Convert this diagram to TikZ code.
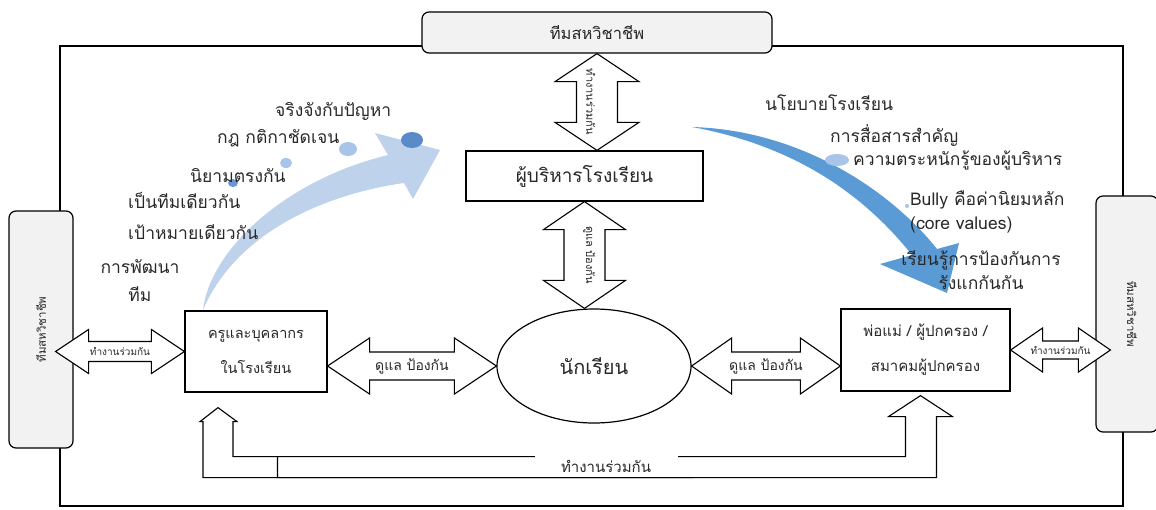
\documentclass[tikz,border=0pt]{standalone}
\usepackage{fontspec}
\setmainfont[Script=Thai]{Loma}
\usetikzlibrary{calc,positioning,shapes.geometric}

\definecolor{boxgray}{RGB}{242,242,242}
\definecolor{paleblue}{RGB}{190,210,236}
\definecolor{midblue}{RGB}{91,155,213}
\definecolor{dotpale}{RGB}{168,196,232}
\definecolor{dotmid}{RGB}{106,150,210}
\definecolor{dotdeep}{RGB}{90,138,200}
\definecolor{txtgray}{RGB}{40,40,40}

% horizontal fat double arrow: from, to, head half, shaft half, head length
\newcommand{\harrow}[5]{%
  \draw[fatarrow] let \p1=(#1), \p2=(#2) in
    (\x1,\y1) -- (\x1+#5,\y1+#3) -- (\x1+#5,\y1+#4) -- (\x2-#5,\y1+#4)
    -- (\x2-#5,\y1+#3) -- (\x2,\y1) -- (\x2-#5,\y1-#3) -- (\x2-#5,\y1-#4)
    -- (\x1+#5,\y1-#4) -- (\x1+#5,\y1-#3) -- cycle;}
% vertical fat double arrow: top, bottom, head half, shaft half, head length
\newcommand{\varrow}[5]{%
  \draw[fatarrow] let \p1=(#1), \p2=(#2) in
    (\x1,\y1) -- (\x1+#3,\y1-#5) -- (\x1+#4,\y1-#5) -- (\x1+#4,\y2+#5)
    -- (\x1+#3,\y2+#5) -- (\x1,\y2) -- (\x1-#3,\y2+#5) -- (\x1-#4,\y2+#5)
    -- (\x1-#4,\y1-#5) -- (\x1-#3,\y1-#5) -- cycle;}

\begin{document}
\begin{tikzpicture}[x=1pt,y=-1pt,
% common options for blocks:
block/.style = {draw, line width=1.2pt, fill=white, align=center, inner sep=0,
            text=txtgray},
% common options for the rounded team boxes:
team/.style = {draw, line width=1.2pt, rounded corners=7pt, fill=boxgray,
            inner sep=0, font=\fontsize{11.5}{13}\selectfont, text=txtgray},
% common options for the fat arrows:
fatarrow/.style = {line width=1.1pt, fill=white, line join=miter},
% common options for the listed points:
point/.style = {anchor=west, inner sep=0, text=txtgray,
            font=\fontsize{17.5}{20}\selectfont},
tag/.style = {inner sep=0, text=txtgray, font=\fontsize{10}{11}\selectfont}]
\useasboundingbox (0,0) rectangle (1156,509);
\draw[line width=1.8pt] (60,46) rectangle (1123,506);
% curved arrows
\fill[paleblue] (203,310) .. controls (210,250) and (285,180) .. (388,155)
  -- (375,133) -- (440,150) -- (413,199) -- (404,183)
  .. controls (320,195) and (235,235) .. (203,310) -- cycle;
\fill[midblue] (692,127) .. controls (800,130) and (890,190) .. (937,249)
  -- (959,243) -- (947,293) -- (880,264) -- (912,255)
  .. controls (860,190) and (790,145) .. (692,127) -- cycle;
\fill[dotdeep] (191,207) circle (1.8pt);
\fill[dotmid] (233,183) ellipse (5pt and 4pt);
\fill[dotpale] (286,163) ellipse (6pt and 5pt);
\fill[dotpale] (348,149) ellipse (9pt and 7pt);
\fill[dotdeep] (412,140) ellipse (11pt and 8pt);
\fill[dotpale] (837,160) ellipse (12pt and 6pt);
\fill[dotpale] (907,206) circle (2pt);
% boxes
\node[team, minimum width=350, minimum height=41, font=\fontsize{16.5}{18}\selectfont] (T0) at (597,32.5) {ทีมสหวิชาชีพ};
\node[team, minimum width=237, minimum height=64, rotate=90] (T1) at (41,329.5) {ทีมสหวิชาชีพ};
\node[team, minimum width=236, minimum height=62, rotate=-90, text depth=10pt] (T2) at (1127,314) {ทีมสหวิชาชีพ};
\node[block, minimum width=237, minimum height=50, font=\fontsize{19}{22}\selectfont] (M0) at (584.5,176) {ผู้บริหารโรงเรียน};
\node[block, minimum width=142, minimum height=81, font=\fontsize{14.5}{35}\selectfont] (M1) at (256,351.5) {ครูและบุคลากร\\ในโรงเรียน};
\node[block, ellipse, minimum width=194, minimum height=114, font=\fontsize{20}{22}\selectfont] (S0) at (594,366) {นักเรียน};
\node[block, minimum width=169, minimum height=82, font=\fontsize{15}{35}\selectfont] (P0) at (925.5,350) {พ่อแม่ / ผู้ปกครอง /\\สมาคมผู้ปกครอง};
% points
\node[point] (L1) at (275,111) {จริงจังกับปัญหา};
\node[point] (L2) at (217,138) {กฎ กติกาชัดเจน};
\node[point] (L3) at (190,176) {นิยามตรงกัน};
\node[point] (L4) at (128,200) {เป็นทีมเดียวกัน};
\node[point] (L5) at (128,232) {เป้าหมายเดียวกัน};
\node[point, anchor=center, align=center, font=\fontsize{17.5}{28}\selectfont] (L6) at (140,281) {การพัฒนา\\ทีม};
\node[point] (R1) at (765,103) {นโยบายโรงเรียน};
\node[point] (R2) at (830,135) {การสื่อสารสำคัญ};
\node[point] (R3) at (853,160) {ความตระหนักรู้ของผู้บริหาร};
\node[point, align=left, font=\fontsize{17.5}{24}\selectfont] (R4) at (910,212) {Bully คือค่านิยมหลัก\\(core values)};
\node[point, anchor=center, align=center, font=\fontsize{17.5}{24}\selectfont] (R5) at (981,270) {เรียนรู้การป้องกันการ\\รังแกกันกัน};
% fat arrows
\coordinate (aL) at ($(T1.south |- M1.west)+(-18,0)$);
\coordinate (aR) at ($(T2.south |- P0.east)+(15,0)$);
\coordinate (aM) at (M1.east |- S0.center);
\coordinate (aP) at (P0.west |- S0.center);
\harrow{aL}{M1.west}{22pt}{10pt}{33pt}
\harrow{aM}{S0.west}{28pt}{14pt}{42pt}
\harrow{S0.east}{aP}{28pt}{14pt}{40pt}
\harrow{P0.east}{aR}{22pt}{9pt}{32pt}
\varrow{T0.south}{M0.north}{42pt}{20.5pt}{28pt}
\varrow{M0.south}{S0.north}{41pt}{20.5pt}{28pt}
\node[tag] (W1) at ($(aL)!0.5!(M1.west)$) {ทำงานร่วมกัน};
\node[tag, font=\fontsize{14}{15}\selectfont] (W2) at ($(aM)!0.5!(S0.west)$) {ดูแล ป้องกัน};
\node[tag, font=\fontsize{14}{15}\selectfont] (W3) at ($(S0.east)!0.5!(aP)$) {ดูแล ป้องกัน};
\node[tag] (W4) at ($(P0.east)!0.5!(aR)$) {ทำงานร่วมกัน};
\node[tag, rotate=-90, font=\fontsize{11}{12}\selectfont] (W5) at ($(T0.south)!0.5!(M0.north)$) {ทำงานร่วมกัน};
\node[tag, rotate=-90, font=\fontsize{11}{12}\selectfont] (W6) at ($(M0.south)!0.5!(S0.north)$) {ดูแล ป้องกัน};
% bent arrows along the bottom
\coordinate (bL) at ([xshift=-38pt, yshift=-15pt]M1.south);
\coordinate (bR) at ([xshift=-5pt, yshift=-4pt]P0.south);
\draw[fatarrow] (bL) -- ++(19,14) -- ++(-4,0) -- ++(0,35) -- ++(460,0)
  -- ++(0,21) -- ++(-490,0) -- ++(0,-56) -- ++(-3,0) -- cycle;
\draw[fatarrow] (bR) -- ++(32,21) -- ++(-16,0) -- ++(0,61) -- ++(-659,0)
  -- ++(0,-21) -- ++(628,0) -- ++(0,-40) -- ++(-17,0) -- cycle;
\node[fill=white, inner sep=0, minimum width=143, minimum height=20, text=txtgray,
  font=\fontsize{15}{17}\selectfont] (W7) at (606,466) {ทำงานร่วมกัน};
\end{tikzpicture}
\end{document}
